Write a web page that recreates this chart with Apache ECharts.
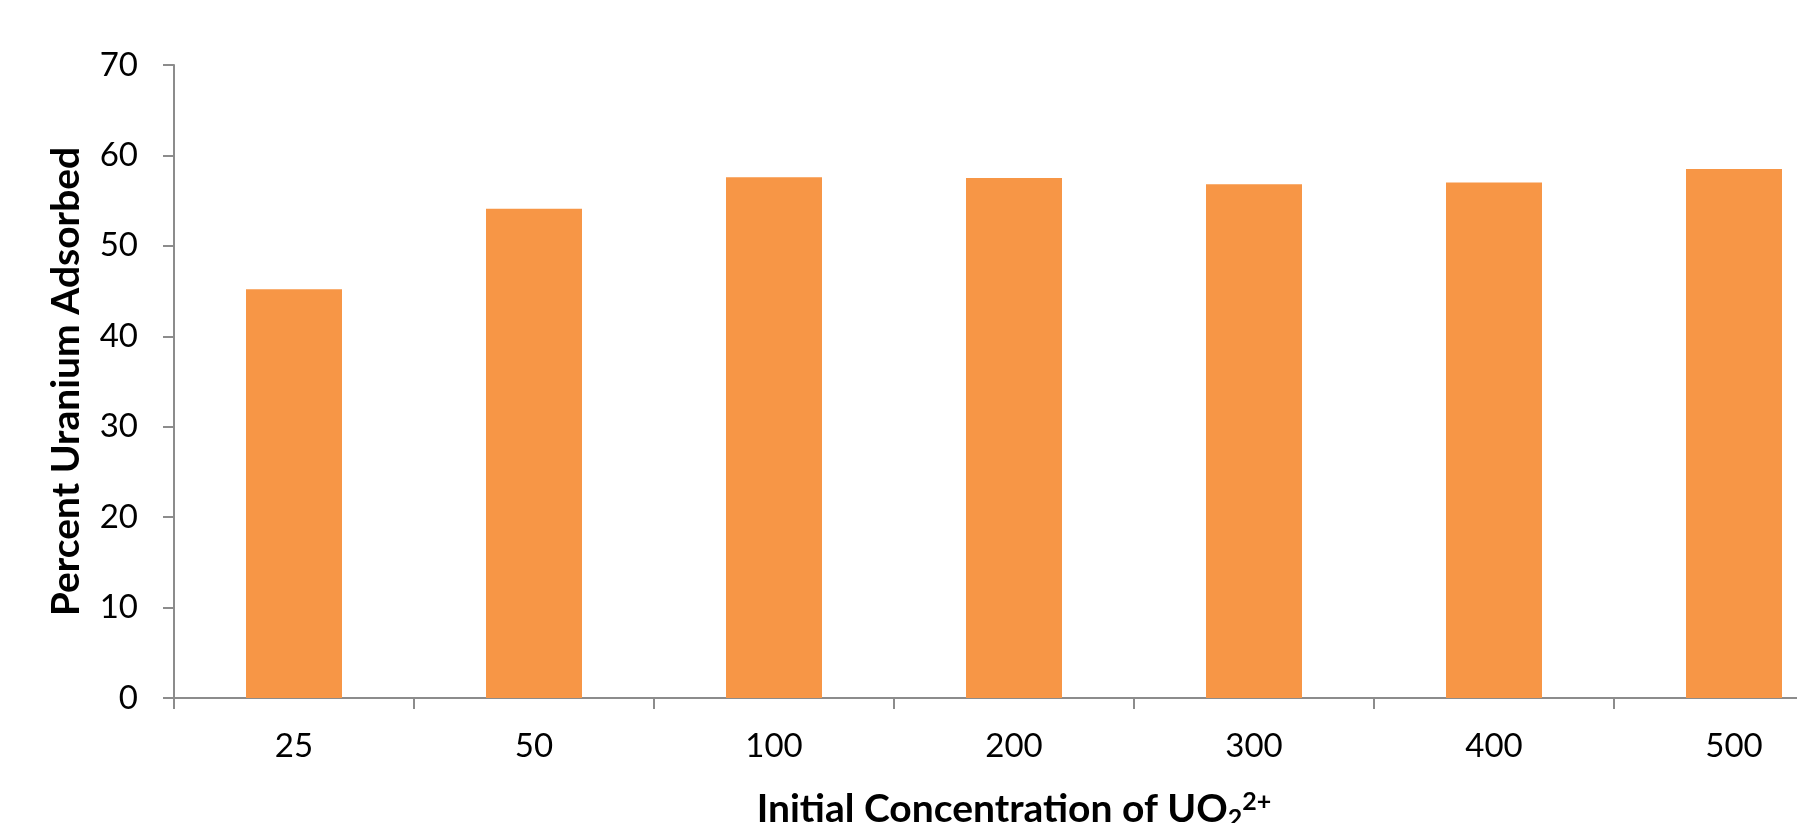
<!DOCTYPE html>
<html>
<head>
<meta charset="utf-8">
<script src="https://cdn.jsdelivr.net/npm/echarts@6/dist/echarts.min.js"></script>
<style>
  html, body { margin: 0; padding: 0; background: #fff; }
  #chart { width: 1797px; height: 823px; }
</style>
</head>
<body>
<div id="chart"></div>
<script>
const categories = ['25', '50', '100', '200', '300', '400', '500'];
const adsorbed = [45.2, 54.1, 57.6, 57.5, 56.8, 57.0, 58.5];
const yTicks = { min: 0, max: 70, interval: 10 };

const chart = echarts.init(document.getElementById('chart'));
const font = 'Lato, "Open Sans", sans-serif';
const axisGray = '#8c8c8c';

const option = {
  animation: false,
  grid: {
    left: 174,
    top: 65,
    width: 1680,
    bottom: 125,
    outerBoundsMode: 'none',
    containLabel: false,
  },
  xAxis: {
    type: 'category',
    data: categories,
    name: 'Initial Concentration of UO{sub|2}{sup|2+}',
    nameLocation: 'middle',
    nameGap: 90,
    nameTextStyle: {
      color: '#000',
      fontFamily: font,
      fontWeight: 'bold',
      fontSize: 39,
      rich: {
        sub: {
          fontFamily: font,
          fontWeight: 'bold',
          fontSize: 25,
          color: '#000',
          padding: [18, 0, 0, 0],
        },
        sup: {
          fontFamily: font,
          fontWeight: 'bold',
          fontSize: 25,
          color: '#000',
          padding: [0, 0, 16, 0],
        },
      },
    },
    axisLine: { lineStyle: { color: axisGray, width: 2 } },
    axisTick: { show: true, length: 11, lineStyle: { color: axisGray, width: 2 } },
    axisLabel: {
      color: '#000',
      fontFamily: font,
      fontSize: 33,
      margin: 32,
    },
    splitLine: { show: false },
  },
  yAxis: {
    type: 'value',
    min: yTicks.min,
    max: yTicks.max,
    interval: yTicks.interval,
    name: 'Percent Uranium Adsorbed',
    nameLocation: 'middle',
    nameGap: 88,
    nameTextStyle: {
      color: '#000',
      fontFamily: font,
      fontWeight: 'bold',
      fontSize: 39,
    },
    axisLine: { show: true, lineStyle: { color: axisGray, width: 2 } },
    axisTick: { show: true, length: 11, lineStyle: { color: axisGray, width: 2 } },
    axisLabel: {
      color: '#000',
      fontFamily: font,
      fontSize: 33,
      margin: 36,
    },
    splitLine: { show: false },
  },
  series: [
    {
      type: 'bar',
      data: adsorbed,
      barWidth: '40%',
      itemStyle: { color: '#F79646' },
    },
  ],
};

chart.setOption(option);
</script>
</body>
</html>
